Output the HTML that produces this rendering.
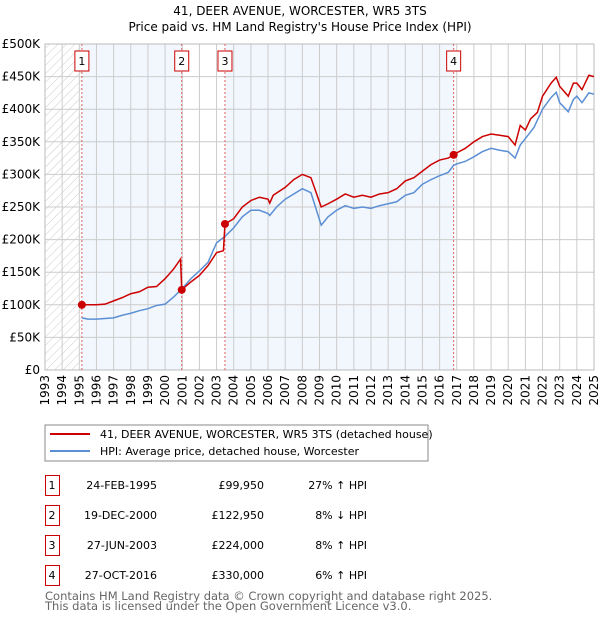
<!DOCTYPE html>
<html><head><meta charset="utf-8"><style>
body{margin:0;background:#fff;font-family:"DejaVu Sans","Liberation Sans",sans-serif;}
svg text{font-family:"DejaVu Sans","Liberation Sans",sans-serif;}
</style></head><body>
<svg id="c" width="600" height="620" xmlns="http://www.w3.org/2000/svg">
<defs><pattern id="hatch" width="6" height="6" patternUnits="userSpaceOnUse" patternTransform="rotate(45)"><line x1="0" y1="0" x2="0" y2="6" stroke="#ccc" stroke-width="1"/></pattern></defs>
<text x="300" y="15" text-anchor="middle" font-size="12">41, DEER AVENUE, WORCESTER, WR5 3TS</text>
<text x="300" y="31" text-anchor="middle" font-size="12">Price paid vs. HM Land Registry's House Price Index (HPI)</text>
<g id="plot"></g>
<rect x="45" y="425" width="383" height="36" fill="#fff" stroke="#888"/>
<line x1="50" y1="434" x2="90" y2="434" stroke="#cc0000" stroke-width="2"/>
<text x="100" y="438" font-size="11">41, DEER AVENUE, WORCESTER, WR5 3TS (detached house)</text>
<line x1="50" y1="451" x2="90" y2="451" stroke="#5b8fd4" stroke-width="2"/>
<text x="100" y="455" font-size="11">HPI: Average price, detached house, Worcester</text>
<g id="table" font-size="11"></g>
<text x="45" y="600" font-size="11.5" fill="#666">Contains HM Land Registry data © Crown copyright and database right 2025.</text>
<text x="45" y="610" font-size="11.5" fill="#666">This data is licensed under the Open Government Licence v3.0.</text>
</svg>
<script>
const yTicks=[0,50,100,150,200,250,300,350,400,450,500];
const yTickLabels=["£0","£50K","£100K","£150K","£200K","£250K","£300K","£350K","£400K","£450K","£500K"];
const years=[1993,1994,1995,1996,1997,1998,1999,2000,2001,2002,2003,2004,2005,2006,2007,2008,2009,2010,2011,2012,2013,2014,2015,2016,2017,2018,2019,2020,2021,2022,2023,2024,2025];
const saleDates=[1995.15,2000.97,2003.49,2016.82];
const salePrices=[99.95,122.95,224,330];
const saleLabels=["1","2","3","4"];
const saleDateText=["24-FEB-1995","19-DEC-2000","27-JUN-2003","27-OCT-2016"];
const salePriceText=["£99,950","£122,950","£224,000","£330,000"];
const saleHpiText=["27% ↑ HPI","8% ↓ HPI","8% ↑ HPI","6% ↑ HPI"];
const hpiT=[1995.15,1995.5,1996,1996.5,1997,1997.5,1998,1998.5,1999,1999.5,2000,2000.5,2001,2001.5,2002,2002.5,2003,2003.5,2004,2004.5,2005,2005.5,2006,2006.1,2006.5,2007,2007.5,2008,2008.5,2009.1,2009.5,2010,2010.5,2011,2011.5,2012,2012.5,2013,2013.5,2014,2014.5,2015,2015.5,2016,2016.5,2016.82,2017,2017.5,2018,2018.5,2019,2019.5,2020,2020.4,2020.7,2021,2021.5,2022,2022.5,2022.8,2023,2023.5,2023.8,2024,2024.3,2024.7,2025];
const hpiV=[80,78,78,79,80,84,87,91,94,99,101,112,125,140,152,165,195,205,218,235,245,245,240,237,250,262,270,278,272,222,235,245,252,248,250,248,252,255,258,268,272,285,292,298,303,314,316,320,327,335,340,337,335,325,345,355,372,400,418,426,410,396,415,420,410,425,423];
const redT=[1995.15,1996,1996.5,1997,1997.5,1998,1998.5,1999,1999.5,2000,2000.5,2000.9,2000.97,2001.5,2002,2002.5,2003,2003.4,2003.49,2004,2004.5,2005,2005.5,2006,2006.1,2006.3,2007,2007.5,2008,2008.5,2009.1,2009.5,2010,2010.5,2011,2011.5,2012,2012.5,2013,2013.5,2014,2014.5,2015,2015.5,2016,2016.5,2016.82,2017,2017.5,2018,2018.5,2019,2019.5,2020,2020.4,2020.7,2021,2021.3,2021.7,2022,2022.5,2022.8,2023,2023.5,2023.8,2024,2024.3,2024.7,2025];
const redV=[100,100,101,106,111,117,120,127,128,140,155,170,123,135,145,160,180,183,224,232,250,260,265,262,256,268,280,292,300,295,250,255,262,270,265,268,265,270,272,278,290,295,305,315,322,325,330,333,340,350,358,362,360,358,345,375,368,385,395,420,440,449,435,420,440,440,430,452,450];
const X0=45,X1=594,Y0=370,Y1=44;
const xs=t=>X0+(t-1993)/(2025-1993)*(X1-X0);
const ys=v=>Y0-v/500*(Y0-Y1);
const NS="http://www.w3.org/2000/svg";
const plot=document.getElementById('plot');
function mk(tag,attrs,parent){const e=document.createElementNS(NS,tag);for(const k in attrs)e.setAttribute(k,attrs[k]);(parent||plot).appendChild(e);return e;}
let e;
e=mk('rect',{x:X0,y:Y1,width:X1-X0,height:Y0-Y1,fill:'#fff'});


e=mk('rect',{x:X0,y:Y1,width:xs(saleDates[0])-X0,height:Y0-Y1,fill:'url(#hatch)'});


[[0,1],[2,3]].forEach(p=>{
 e=mk('rect',{x:xs(saleDates[p[0]]),y:Y1,width:xs(saleDates[p[1]])-xs(saleDates[p[0]]),height:Y0-Y1,fill:'#f2f6fd'});
 
 
});
yTicks.forEach((v,i)=>{
 e=mk('line',{x1:X0,x2:X1,y1:ys(v),y2:ys(v),stroke:'#ccc'});
 
 
 e=mk('text',{x:40,y:ys(v)+4,'text-anchor':'end','font-size':12});
 e.textContent=yTickLabels[i];
 
 
});
years.forEach(y=>{
 e=mk('line',{x1:xs(y),x2:xs(y),y1:Y1,y2:Y0,stroke:'#ccc'});
 
 
 e=mk('text',{x:0,y:0,'text-anchor':'end','font-size':12,transform:`translate(${xs(y)+4},${Y0+5}) rotate(-90)`});
 e.textContent=y;
 
 
});
e=mk('rect',{x:X0,y:Y1,width:X1-X0,height:Y0-Y1,fill:'none',stroke:'#bbb'});


saleDates.forEach((d,i)=>{
 e=mk('line',{x1:xs(d),x2:xs(d),y1:Y1,y2:Y0,stroke:'#e06060','stroke-dasharray':'2,2'});
 
 
});
e=mk('polyline',{points:hpiT.map((t,i)=>xs(t)+','+ys(hpiV[i])).join(' '),fill:'none',stroke:'#5b8fd4','stroke-width':1.5});


e=mk('polyline',{points:redT.map((t,i)=>xs(t)+','+ys(redV[i])).join(' '),fill:'none',stroke:'#cc0000','stroke-width':1.5});


saleDates.forEach((d,i)=>{
 e=mk('circle',{cx:xs(d),cy:ys(salePrices[i]),r:4,fill:'#cc0000'});
 
 
 e=mk('rect',{x:xs(d)-7,y:51,width:14,height:20,fill:'#fff',stroke:'#cc0000'});
 
 
 e=mk('text',{x:xs(d),y:65,'text-anchor':'middle','font-size':11});
 e.textContent=saleLabels[i];
 
 
});
const tbl=document.getElementById('table');
saleDates.forEach((d,i)=>{
 const y=475+i*30;
 e=mk('rect',{x:45.5,y:y+0.5,width:14,height:20,fill:'#fff',stroke:'#cc0000'},tbl);
 
 
 e=mk('text',{x:52,y:y+14,'text-anchor':'middle'},tbl);
 e.textContent=saleLabels[i];
 
 
 e=mk('text',{x:157,y:y+14,'text-anchor':'end'},tbl);
 e.textContent=saleDateText[i];
 
 
 e=mk('text',{x:264,y:y+14,'text-anchor':'end'},tbl);
 e.textContent=salePriceText[i];
 
 
 e=mk('text',{x:367,y:y+14,'text-anchor':'end'},tbl);
 e.textContent=saleHpiText[i];
 
 
});
</script>
</body></html>
